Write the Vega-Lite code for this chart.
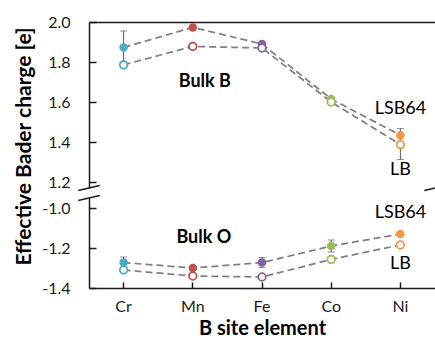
{
  "$schema": "https://vega.github.io/schema/vega-lite/v6.json",
  "background": "white",
  "padding": {"left": 12, "top": 13, "right": 0, "bottom": 0},
  "spacing": 10,
  "bounds": "flush",
  "config": {
    "font": "Lato",
    "view": {"stroke": "transparent"},
    "axis": {
      "grid": false,
      "domainColor": "#1a1a1a",
      "domainWidth": 1.5,
      "tickColor": "#1a1a1a",
      "tickWidth": 1.5,
      "labelColor": "#1a1a1a",
      "labelFont": "Lato",
      "labelFontSize": 16,
      "titleFont": "Lato",
      "titleFontSize": 21,
      "titleFontWeight": "bold",
      "titleColor": "#000000"
    }
  },
  "datasets": {
    "pts": [
      {"panel": "B", "el": "Cr", "series": "LSB64", "v": 1.873, "lo": 1.785, "hi": 1.955},
      {"panel": "B", "el": "Mn", "series": "LSB64", "v": 1.973, "lo": null, "hi": null},
      {"panel": "B", "el": "Fe", "series": "LSB64", "v": 1.89, "lo": null, "hi": null},
      {"panel": "B", "el": "Co", "series": "LSB64", "v": 1.615, "lo": null, "hi": null},
      {"panel": "B", "el": "Ni", "series": "LSB64", "v": 1.434, "lo": null, "hi": null},
      {"panel": "B", "el": "Cr", "series": "LB", "v": 1.786, "lo": null, "hi": null},
      {"panel": "B", "el": "Mn", "series": "LB", "v": 1.878, "lo": null, "hi": null},
      {"panel": "B", "el": "Fe", "series": "LB", "v": 1.87, "lo": null, "hi": null},
      {"panel": "B", "el": "Co", "series": "LB", "v": 1.6, "lo": null, "hi": null},
      {"panel": "B", "el": "Ni", "series": "LB", "v": 1.387, "lo": 1.313, "hi": 1.467},
      {"panel": "O", "el": "Cr", "series": "LSB64", "v": -1.273, "lo": -1.3, "hi": -1.245},
      {"panel": "O", "el": "Mn", "series": "LSB64", "v": -1.3, "lo": null, "hi": null},
      {"panel": "O", "el": "Fe", "series": "LSB64", "v": -1.273, "lo": -1.298, "hi": -1.248},
      {"panel": "O", "el": "Co", "series": "LSB64", "v": -1.19, "lo": -1.22, "hi": -1.16},
      {"panel": "O", "el": "Ni", "series": "LSB64", "v": -1.13, "lo": null, "hi": null},
      {"panel": "O", "el": "Cr", "series": "LB", "v": -1.31, "lo": null, "hi": null},
      {"panel": "O", "el": "Mn", "series": "LB", "v": -1.34, "lo": null, "hi": null},
      {"panel": "O", "el": "Fe", "series": "LB", "v": -1.345, "lo": null, "hi": null},
      {"panel": "O", "el": "Co", "series": "LB", "v": -1.257, "lo": null, "hi": null},
      {"panel": "O", "el": "Ni", "series": "LB", "v": -1.185, "lo": null, "hi": null}
    ],
    "ann": [
      {"panel": "B", "el": "Mn", "v": 1.70, "text": "Bulk B", "kind": "bulk"},
      {"panel": "B", "el": "Ni", "v": 1.566, "text": "LSB64", "kind": "ser"},
      {"panel": "B", "el": "Ni", "v": 1.258, "text": "LB", "kind": "ser"},
      {"panel": "O", "el": "Mn", "v": -1.15, "text": "Bulk O", "kind": "bulk"},
      {"panel": "O", "el": "Ni", "v": -1.025, "text": "LSB64", "kind": "ser"},
      {"panel": "O", "el": "Ni", "v": -1.28, "text": "LB", "kind": "ser"}
    ],
    "brk": [
      {"panel": "B", "el": "Cr", "v": 1.17},
      {"panel": "B", "el": "Ni", "v": 1.17},
      {"panel": "O", "el": "Cr", "v": -0.95}
    ]
  },
  "vconcat": [
    {
      "width": 346,
      "height": 166,
      "encoding": {
        "x": {
          "field": "el", "type": "nominal",
          "sort": ["Cr", "Mn", "Fe", "Co", "Ni"],
          "scale": {"type": "band", "domain": ["Cr", "Mn", "Fe", "Co", "Ni"], "paddingInner": 0, "paddingOuter": 0},
          "axis": {"orient": "top", "labels": false, "ticks": false, "title": null, "domain": true}
        }
      },
      "layer": [
        {
          "data": {"name": "pts"},
          "transform": [{"filter": "datum.panel === 'B'"}],
          "mark": {"type": "line", "strokeDash": [7, 4], "color": "#808080", "strokeWidth": 1.75},
          "encoding": {
            "y": {"field": "v", "type": "quantitative", "scale": {"domain": [1.17, 2.0], "nice": false, "zero": false},
              "axis": {"orient": "left", "values": [1.2, 1.4, 1.6, 1.8, 2.0], "format": ".1f", "tickSize": -7, "labelPadding": 26,
                "title": "Effective Bader charge [e]", "titleAngle": -90, "titleBaseline": "middle", "titleX": -65, "titleY": 124}},
            "detail": {"field": "series"}
          }
        },
        {
          "mark": {"type": "rule", "color": "#1a1a1a", "strokeWidth": 1.5},
          "encoding": {
            "x": {"datum": "Ni", "type": "nominal", "bandPosition": 1},
            "y": {"datum": 1.17, "type": "quantitative"},
            "y2": {"datum": 2.0}
          }
        },
        {
          "data": {"name": "pts"},
          "transform": [{"filter": "datum.panel === 'B' && isValid(datum.lo)"}],
          "mark": {"type": "rule", "color": "#595959", "strokeWidth": 1},
          "encoding": {
            "y": {"field": "lo", "type": "quantitative"},
            "y2": {"field": "hi"}
          }
        },
        {
          "data": {"name": "pts"},
          "transform": [{"filter": "datum.panel === 'B' && isValid(datum.lo)"}],
          "mark": {"type": "tick", "orient": "horizontal", "size": 7, "thickness": 1, "color": "#595959"},
          "encoding": {"y": {"field": "hi", "type": "quantitative"}}
        },
        {
          "data": {"name": "pts"},
          "transform": [{"filter": "datum.panel === 'B' && isValid(datum.lo)"}],
          "mark": {"type": "tick", "orient": "horizontal", "size": 7, "thickness": 1, "color": "#595959"},
          "encoding": {"y": {"field": "lo", "type": "quantitative"}}
        },
        {
          "data": {"name": "pts"},
          "transform": [{"filter": "datum.panel === 'B' && datum.series === 'LSB64'"}],
          "mark": {"type": "point", "filled": true, "size": 72, "opacity": 1},
          "encoding": {
            "y": {"field": "v", "type": "quantitative"},
            "color": {"field": "el", "type": "nominal", "scale": {"domain": ["Cr", "Mn", "Fe", "Co", "Ni"], "range": ["#4bacc6", "#c0504d", "#8064a2", "#9bbb59", "#f79646"]}, "legend": null}
          }
        },
        {
          "data": {"name": "pts"},
          "transform": [{"filter": "datum.panel === 'B' && datum.series === 'LB'"}],
          "mark": {"type": "point", "filled": false, "fill": "white", "fillOpacity": 1, "size": 58, "strokeWidth": 1.8, "opacity": 1},
          "encoding": {
            "y": {"field": "v", "type": "quantitative"},
            "color": {"field": "el", "type": "nominal", "scale": {"domain": ["Cr", "Mn", "Fe", "Co", "Ni"], "range": ["#4bacc6", "#c0504d", "#8064a2", "#9bbb59", "#f79646"]}, "legend": null}
          }
        },
        {
          "data": {"name": "ann"},
          "transform": [{"filter": "datum.panel === 'B' && datum.kind === 'bulk'"}],
          "mark": {"type": "text", "fontWeight": "bold", "fontSize": 18, "dx": 12, "color": "#000000", "font": "Lato"},
          "encoding": {
            "y": {"field": "v", "type": "quantitative"},
            "text": {"field": "text"}
          }
        },
        {
          "data": {"name": "ann"},
          "transform": [{"filter": "datum.panel === 'B' && datum.kind === 'ser'"}],
          "mark": {"type": "text", "fontSize": 18, "color": "#000000", "font": "Lato"},
          "encoding": {
            "y": {"field": "v", "type": "quantitative"},
            "text": {"field": "text"}
          }
        },
        {
          "data": {"name": "brk"},
          "transform": [{"filter": "datum.panel === 'B' && datum.el === 'Cr'"}],
          "mark": {"type": "point", "shape": "stroke", "angle": -13, "size": 484, "filled": false, "color": "#1a1a1a", "strokeWidth": 1.5, "opacity": 1},
          "encoding": {
            "x": {"field": "el", "type": "nominal", "bandPosition": 0},
            "y": {"field": "v", "type": "quantitative"}
          }
        },
        {
          "data": {"name": "brk"},
          "transform": [{"filter": "datum.panel === 'B' && datum.el === 'Ni'"}],
          "mark": {"type": "point", "shape": "stroke", "angle": -13, "size": 484, "filled": false, "color": "#1a1a1a", "strokeWidth": 1.5, "opacity": 1},
          "encoding": {
            "x": {"field": "el", "type": "nominal", "bandPosition": 1},
            "y": {"field": "v", "type": "quantitative"}
          }
        }
      ]
    },
    {
      "width": 346,
      "height": 90,
      "encoding": {
        "x": {
          "field": "el", "type": "nominal",
          "sort": ["Cr", "Mn", "Fe", "Co", "Ni"],
          "scale": {"type": "band", "domain": ["Cr", "Mn", "Fe", "Co", "Ni"], "paddingInner": 0, "paddingOuter": 0},
          "axis": {"orient": "bottom", "labelAngle": 0, "tickSize": -6, "labelPadding": 16, "title": "B site element", "titleFontSize": 20, "titlePadding": 4}
        }
      },
      "layer": [
        {
          "data": {"name": "pts"},
          "transform": [{"filter": "datum.panel === 'O'"}],
          "mark": {"type": "line", "strokeDash": [7, 4], "color": "#808080", "strokeWidth": 1.75},
          "encoding": {
            "y": {"field": "v", "type": "quantitative", "scale": {"domain": [-1.4, -0.95], "nice": false, "zero": false},
              "axis": {"orient": "left", "values": [-1.4, -1.2, -1.0], "labelExpr": "(datum.value < 0 ? '-' : '') + format(abs(datum.value), '.1f')", "tickSize": -7, "labelPadding": 26, "title": null}},
            "detail": {"field": "series"}
          }
        },
        {
          "data": {"name": "pts"},
          "transform": [{"filter": "datum.panel === 'O' && isValid(datum.lo)"}],
          "mark": {"type": "rule", "color": "#595959", "strokeWidth": 1},
          "encoding": {
            "y": {"field": "lo", "type": "quantitative"},
            "y2": {"field": "hi"}
          }
        },
        {
          "data": {"name": "pts"},
          "transform": [{"filter": "datum.panel === 'O' && isValid(datum.lo)"}],
          "mark": {"type": "tick", "orient": "horizontal", "size": 7, "thickness": 1, "color": "#595959"},
          "encoding": {"y": {"field": "hi", "type": "quantitative"}}
        },
        {
          "data": {"name": "pts"},
          "transform": [{"filter": "datum.panel === 'O' && isValid(datum.lo)"}],
          "mark": {"type": "tick", "orient": "horizontal", "size": 7, "thickness": 1, "color": "#595959"},
          "encoding": {"y": {"field": "lo", "type": "quantitative"}}
        },
        {
          "data": {"name": "pts"},
          "transform": [{"filter": "datum.panel === 'O' && datum.series === 'LSB64'"}],
          "mark": {"type": "point", "filled": true, "size": 72, "opacity": 1},
          "encoding": {
            "y": {"field": "v", "type": "quantitative"},
            "color": {"field": "el", "type": "nominal", "scale": {"domain": ["Cr", "Mn", "Fe", "Co", "Ni"], "range": ["#4bacc6", "#c0504d", "#8064a2", "#9bbb59", "#f79646"]}, "legend": null}
          }
        },
        {
          "data": {"name": "pts"},
          "transform": [{"filter": "datum.panel === 'O' && datum.series === 'LB'"}],
          "mark": {"type": "point", "filled": false, "fill": "white", "fillOpacity": 1, "size": 58, "strokeWidth": 1.8, "opacity": 1},
          "encoding": {
            "y": {"field": "v", "type": "quantitative"},
            "color": {"field": "el", "type": "nominal", "scale": {"domain": ["Cr", "Mn", "Fe", "Co", "Ni"], "range": ["#4bacc6", "#c0504d", "#8064a2", "#9bbb59", "#f79646"]}, "legend": null}
          }
        },
        {
          "data": {"name": "ann"},
          "transform": [{"filter": "datum.panel === 'O' && datum.kind === 'bulk'"}],
          "mark": {"type": "text", "fontWeight": "bold", "fontSize": 18, "dx": 11, "color": "#000000", "font": "Lato"},
          "encoding": {
            "y": {"field": "v", "type": "quantitative"},
            "text": {"field": "text"}
          }
        },
        {
          "data": {"name": "ann"},
          "transform": [{"filter": "datum.panel === 'O' && datum.kind === 'ser'"}],
          "mark": {"type": "text", "fontSize": 18, "color": "#000000", "font": "Lato"},
          "encoding": {
            "y": {"field": "v", "type": "quantitative"},
            "text": {"field": "text"}
          }
        },
        {
          "data": {"name": "brk"},
          "transform": [{"filter": "datum.panel === 'O'"}],
          "mark": {"type": "point", "shape": "stroke", "angle": -13, "size": 484, "filled": false, "color": "#1a1a1a", "strokeWidth": 1.5, "opacity": 1},
          "encoding": {
            "x": {"field": "el", "type": "nominal", "bandPosition": 0},
            "y": {"field": "v", "type": "quantitative"}
          }
        }
      ]
    }
  ]
}
